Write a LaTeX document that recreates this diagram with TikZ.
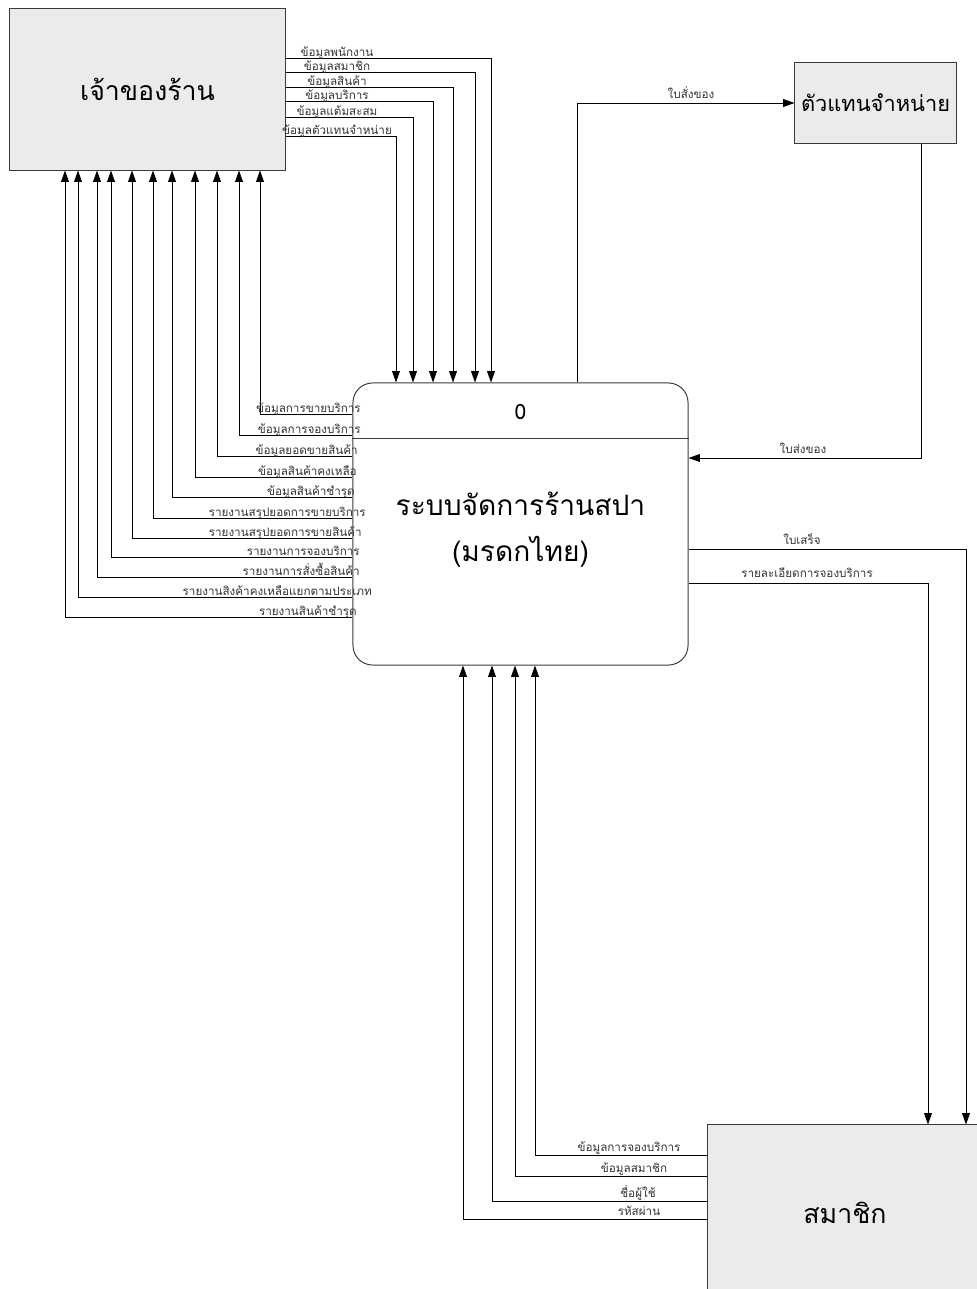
\documentclass[tikz,border=0pt]{standalone}
\usepackage{fontspec}
\setmainfont{Loma}[Script=Thai]
\usepackage{tikz}
\usepackage{xcolor}
\usetikzlibrary{arrows.meta, positioning, calc}
\definecolor{entityfill}{HTML}{EBEBEB}
\definecolor{edge}{HTML}{3A3A3A}
\definecolor{labeltext}{HTML}{333333}
\tikzset{
  entitybox/.style={
    draw=edge, fill=entityfill, line width=0.7pt,
    font=\fontsize{19}{22}\selectfont, align=center, inner sep=0pt
  },
  procbox/.style={
    draw=edge, fill=white, rounded corners=14pt, line width=0.7pt,
    minimum width=8.375cm, minimum height=7.05cm, inner sep=0pt
  },
  darrow/.style={-{Triangle[length=8pt, width=5.5pt]}, line width=0.6pt, color=black},
  flowlabel/.style={font=\fontsize{8.3}{10}\selectfont, text=labeltext, inner sep=0pt}
}
\begin{document}
\begin{tikzpicture}[x=0.025cm, y=-0.025cm]
    \useasboundingbox (0,0) rectangle (977,1289);

    \node[entitybox, minimum width=6.875cm, minimum height=4.025cm] (owner) at (147.5,89.5) {เจ้าของร้าน};
    \node[entitybox, minimum width=4.025cm, minimum height=2cm, font=\fontsize{15.5}{18}\selectfont] (vendor) at (875.5,103) {ตัวแทนจำหน่าย};
    \node[entitybox, minimum width=6.85cm, minimum height=4.4cm] (member) at (845,1213) {สมาชิก};
    \node[procbox] (proc) at (520.5,524) {};
    \node[font=\fontsize{15}{18}\selectfont] (pnum) at (520.5,412) {0};
    \node[font=\fontsize{20}{33}\selectfont, align=center] (ptitle) at (520.5,530) {ระบบจัดการร้านสปา\\(มรดกไทย)};
    \coordinate (div) at (0,438);
    \draw[edge, line width=0.7pt] (proc.west |- div) -- (proc.east |- div);

    \coordinate (d1) at (491,58);
    \coordinate (d2) at (475,72);
    \coordinate (d3) at (453,87);
    \coordinate (d4) at (433,101);
    \coordinate (d5) at (413,117);
    \coordinate (d6) at (396,136);
    \draw[darrow] (owner.east |- d1) -| (proc.north -| d1);
    \draw[darrow] (owner.east |- d2) -| (proc.north -| d2);
    \draw[darrow] (owner.east |- d3) -| (proc.north -| d3);
    \draw[darrow] (owner.east |- d4) -| (proc.north -| d4);
    \draw[darrow] (owner.east |- d5) -| (proc.north -| d5);
    \draw[darrow] (owner.east |- d6) -| (proc.north -| d6);
    \node[flowlabel, anchor=base] (ld1) at (337,56) {ข้อมูลพนักงาน};
    \node[flowlabel, anchor=base] (ld2) at (337,70) {ข้อมูลสมาชิก};
    \node[flowlabel, anchor=base] (ld3) at (337,85) {ข้อมูลสินค้า};
    \node[flowlabel, anchor=base] (ld4) at (337,99) {ข้อมูลบริการ};
    \node[flowlabel, anchor=base] (ld5) at (337,115) {ข้อมูลแต้มสะสม};
    \node[flowlabel, anchor=base] (ld6) at (337,134) {ข้อมูลตัวแทนจำหน่าย};

    \coordinate (u1) at (260,414);
    \coordinate (u2) at (239,435);
    \coordinate (u3) at (217,456);
    \coordinate (u4) at (195,477);
    \coordinate (u5) at (172,497);
    \coordinate (u6) at (153,518);
    \coordinate (u7) at (132,538);
    \coordinate (u8) at (111,557);
    \coordinate (u9) at (97,577);
    \coordinate (u10) at (78,597);
    \coordinate (u11) at (65,617);
    \draw[darrow] (proc.west |- u1) -| (owner.south -| u1);
    \draw[darrow] (proc.west |- u2) -| (owner.south -| u2);
    \draw[darrow] (proc.west |- u3) -| (owner.south -| u3);
    \draw[darrow] (proc.west |- u4) -| (owner.south -| u4);
    \draw[darrow] (proc.west |- u5) -| (owner.south -| u5);
    \draw[darrow] (proc.west |- u6) -| (owner.south -| u6);
    \draw[darrow] (proc.west |- u7) -| (owner.south -| u7);
    \draw[darrow] (proc.west |- u8) -| (owner.south -| u8);
    \draw[darrow] (proc.west |- u9) -| (owner.south -| u9);
    \draw[darrow] (proc.west |- u10) -| (owner.south -| u10);
    \draw[darrow] (proc.west |- u11) -| (owner.south -| u11);
    \node[flowlabel, anchor=base east] (lu1) at (361,412) {ข้อมูลการขายบริการ};
    \node[flowlabel, anchor=base east] (lu2) at (361,433) {ข้อมูลการจองบริการ};
    \node[flowlabel, anchor=base east] (lu3) at (358,454) {ข้อมูลยอดขายสินค้า};
    \node[flowlabel, anchor=base east] (lu4) at (357,475) {ข้อมูลสินค้าคงเหลือ};
    \node[flowlabel, anchor=base east] (lu5) at (355,495) {ข้อมูลสินค้าชำรุด};
    \node[flowlabel, anchor=base east] (lu6) at (366,516) {รายงานสรุปยอดการขายบริการ};
    \node[flowlabel, anchor=base east] (lu7) at (362,536) {รายงานสรุปยอดการขายสินค้า};
    \node[flowlabel, anchor=base east] (lu8) at (360,555) {รายงานการจองบริการ};
    \node[flowlabel, anchor=base east] (lu9) at (360,575) {รายงานการสั่งซื้อสินค้า};
    \node[flowlabel, anchor=base east] (lu10) at (372,595) {รายงานสิงค้าคงเหลือแยกตามประเภท};
    \node[flowlabel, anchor=base east] (lu11) at (357,615) {รายงานสินค้าชำรุด};

    \coordinate (v1) at (577,103);
    \coordinate (v2) at (921,458);
    \draw[darrow] (proc.north -| v1) |- (vendor.west |- v1);
    \draw[darrow] (vendor.south -| v2) |- (proc.east |- v2);
    \node[flowlabel, anchor=base] (lv1) at (691,98) {ใบสั่งของ};
    \node[flowlabel, anchor=base] (lv2) at (803,453) {ใบส่งของ};

    \coordinate (m1) at (966,549);
    \coordinate (m2) at (928,583);
    \draw[darrow] (proc.east |- m1) -| (member.north -| m1);
    \draw[darrow] (proc.east |- m2) -| (member.north -| m2);
    \node[flowlabel, anchor=base] (lm1) at (802,544) {ใบเสร็จ};
    \node[flowlabel, anchor=base] (lm2) at (807,577) {รายละเอียดการจองบริการ};

    \coordinate (b1) at (535,1155);
    \coordinate (b2) at (515,1176);
    \coordinate (b3) at (492,1201);
    \coordinate (b4) at (463,1219);
    \draw[darrow] (member.west |- b1) -| (proc.south -| b1);
    \draw[darrow] (member.west |- b2) -| (proc.south -| b2);
    \draw[darrow] (member.west |- b3) -| (proc.south -| b3);
    \draw[darrow] (member.west |- b4) -| (proc.south -| b4);
    \node[flowlabel, anchor=base] (lb1) at (629,1151) {ข้อมูลการจองบริการ};
    \node[flowlabel, anchor=base] (lb2) at (634,1172) {ข้อมูลสมาชิก};
    \node[flowlabel, anchor=base] (lb3) at (638,1197) {ชื่อผู้ใช้};
    \node[flowlabel, anchor=base] (lb4) at (639,1215) {รหัสผ่าน};
\end{tikzpicture}
\end{document}
